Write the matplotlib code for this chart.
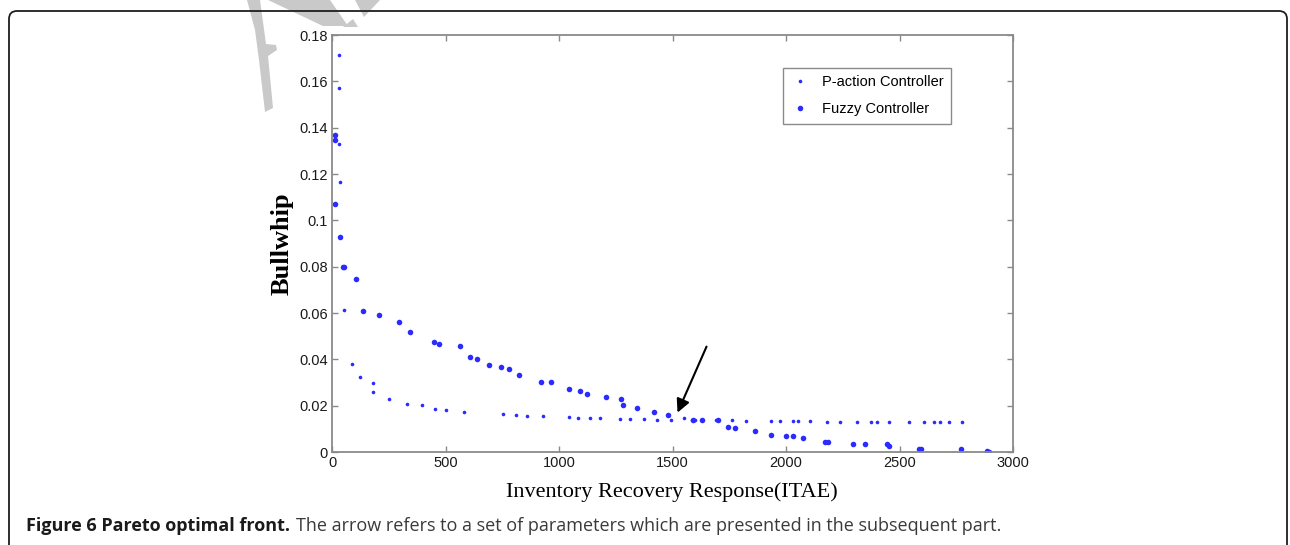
import matplotlib
matplotlib.use('Agg')
import matplotlib.pyplot as plt
from matplotlib.patches import FancyBboxPatch, Polygon

# values
fuzzy_x = [15, 15, 15, 36, 48, 52, 107, 137, 208, 294, 345, 449, 470, 562, 608, 639,
           692, 743, 780, 825, 921, 965, 1043, 1094, 1125, 1206, 1272, 1282, 1345, 1419,
           1482, 1592, 1628, 1699, 1743, 1776, 1864, 1933, 1999, 2030, 2076, 2174, 2185,
           2295, 2348, 2445, 2453, 2584, 2594, 2773, 2884, 2894]
fuzzy_y = [0.1368, 0.1347, 0.1071, 0.0929, 0.0797, 0.0800, 0.0748, 0.0609, 0.0591, 0.0563,
           0.0518, 0.0473, 0.0468, 0.0459, 0.0412, 0.0403, 0.0374, 0.0366, 0.0358, 0.0331,
           0.0302, 0.0302, 0.0271, 0.0262, 0.0249, 0.0239, 0.0230, 0.0201, 0.0191, 0.0173,
           0.0158, 0.0137, 0.0136, 0.0136, 0.0107, 0.0102, 0.0089, 0.0072, 0.0069, 0.0069,
           0.0059, 0.0043, 0.0043, 0.0033, 0.0033, 0.0033, 0.0025, 0.0013, 0.0013, 0.0013,
           0.0003, 0.0]

paction_x = [31, 33, 33, 36, 51, 88, 122, 182, 182, 251, 332, 396, 454, 504, 581, 752, 812,
             860, 928, 1043, 1082, 1138, 1182, 1270, 1311, 1373, 1432, 1495, 1551, 1587, 1599,
             1690, 1760, 1825, 1932, 1973, 2032, 2054, 2105, 2182, 2239, 2311, 2374, 2402,
             2453, 2540, 2606, 2652, 2680, 2716, 2777]
paction_y = [0.1714, 0.1570, 0.1330, 0.1164, 0.0614, 0.0381, 0.0322, 0.0298, 0.0258, 0.0230,
             0.0209, 0.0201, 0.0184, 0.0180, 0.0174, 0.0163, 0.0158, 0.0154, 0.0154, 0.0151,
             0.0148, 0.0148, 0.0148, 0.0144, 0.0144, 0.0144, 0.0140, 0.0140, 0.0145, 0.0138,
             0.0138, 0.0137, 0.0140, 0.0134, 0.0134, 0.0134, 0.0134, 0.0134, 0.0134, 0.0131,
             0.0131, 0.0131, 0.0131, 0.0131, 0.0131, 0.0131, 0.0131, 0.0131, 0.0131, 0.0131,
             0.0131]

x_ticks = [0, 500, 1000, 1500, 2000, 2500, 3000]
y_ticks = [0, 0.02, 0.04, 0.06, 0.08, 0.1, 0.12, 0.14, 0.16, 0.18]
y_tick_labels = ['0', '0.02', '0.04', '0.06', '0.08', '0.1', '0.12', '0.14', '0.16', '0.18']

arrow_tail = (1650, 0.0455)
arrow_head = (1522, 0.0170)

W, H = 1290, 545


def figpx(x, y):
    # pixel (from top-left) -> figure fraction
    return (x / W, 1 - y / H)


fig = plt.figure(figsize=(W / 100, H / 100), dpi=100)
fig.patch.set_facecolor('white')

# faint watermark strokes in the top-left
wm_color = '#c9c9c9'
for shape in [
    [(247, 0), (260, 0), (266, 44), (276, 45), (277, 50), (268, 56), (273, 108), (265, 112),
     (259, 60), (255, 30)],
    [(268, 0), (330, 0), (348, 26), (323, 26)],
    [(343, 27), (358, 27), (353, 19)],
    [(355, 0), (380, 0), (364, 17)],
]:
    fig.add_artist(Polygon([figpx(*p) for p in shape], closed=True, facecolor=wm_color,
                           edgecolor='none', transform=fig.transFigure, zorder=0))

# rounded frame around the figure (runs off the bottom)
frame = FancyBboxPatch((0.09, -0.5), 12.78, 5.84, boxstyle='round,pad=0,rounding_size=0.08',
                       transform=fig.dpi_scale_trans, facecolor='none', edgecolor='#1e1e1e',
                       linewidth=1.3, zorder=1)
fig.add_artist(frame)

ax = fig.add_axes([332 / W, 1 - 452 / H, 681 / W, 417 / H])
blue = '#2b2bff'
ax.plot(paction_x, paction_y, linestyle='none', marker='o', markersize=2.6, color=blue,
        markeredgewidth=0, label='P-action Controller')
ax.plot(fuzzy_x, fuzzy_y, linestyle='none', marker='o', markersize=4.0, color=blue,
        markeredgewidth=0, label='Fuzzy Controller')

ax.annotate('', xy=arrow_head, xytext=arrow_tail,
            arrowprops=dict(arrowstyle='-|>', color='black', lw=1.5, mutation_scale=20,
                            shrinkA=0, shrinkB=0))

ax.set_xlim(0, 3000)
ax.set_ylim(0, 0.18)
ax.set_xticks(x_ticks)
ax.set_xticklabels([str(t) for t in x_ticks])
ax.set_yticks(y_ticks)
ax.set_yticklabels(y_tick_labels)

for s in ax.spines.values():
    s.set_color('#8a8a8a')
    s.set_linewidth(1.3)
ax.tick_params(direction='in', length=4, width=1, color='#8a8a8a', top=True, right=True,
               labelsize=10.5, labelcolor='#1a1a1a', pad=3)
for lab in ax.get_xticklabels() + ax.get_yticklabels():
    lab.set_family('Liberation Sans')

ax.set_xlabel('Inventory Recovery Response(ITAE)', family='Liberation Serif', fontsize=16)
ax.xaxis.set_label_coords(0.499, -0.072)
ax.set_ylabel('Bullwhip', family='Liberation Serif', fontweight='bold', fontsize=19)
ax.yaxis.set_label_coords(-0.057, 0.5)

leg = ax.legend(loc='upper left', bbox_to_anchor=((783 - 332) / 681, (452 - 68) / 417),
                borderaxespad=0, fancybox=False, edgecolor='#8a8a8a', framealpha=1,
                prop={'family': 'Liberation Sans', 'size': 10.5}, borderpad=0.5,
                labelspacing=0.9, handlelength=1.3, handletextpad=0.9)
leg.get_frame().set_linewidth(1.0)

# caption below the chart
bold = fig.text(26 / W, 14 / H, 'Figure 6 Pareto optimal front.', family='Open Sans',
                fontweight='bold', fontsize=13, color='#1a1a1a', va='baseline')
renderer = fig.canvas.get_renderer()
bb = bold.get_window_extent(renderer)
fig.text((bb.x1 + 6) / W, 14 / H,
         'The arrow refers to a set of parameters which are presented in the subsequent part.',
         family='Open Sans', fontsize=13, color='#3a3a3a', va='baseline')

fig.savefig('out.png', dpi=100)
